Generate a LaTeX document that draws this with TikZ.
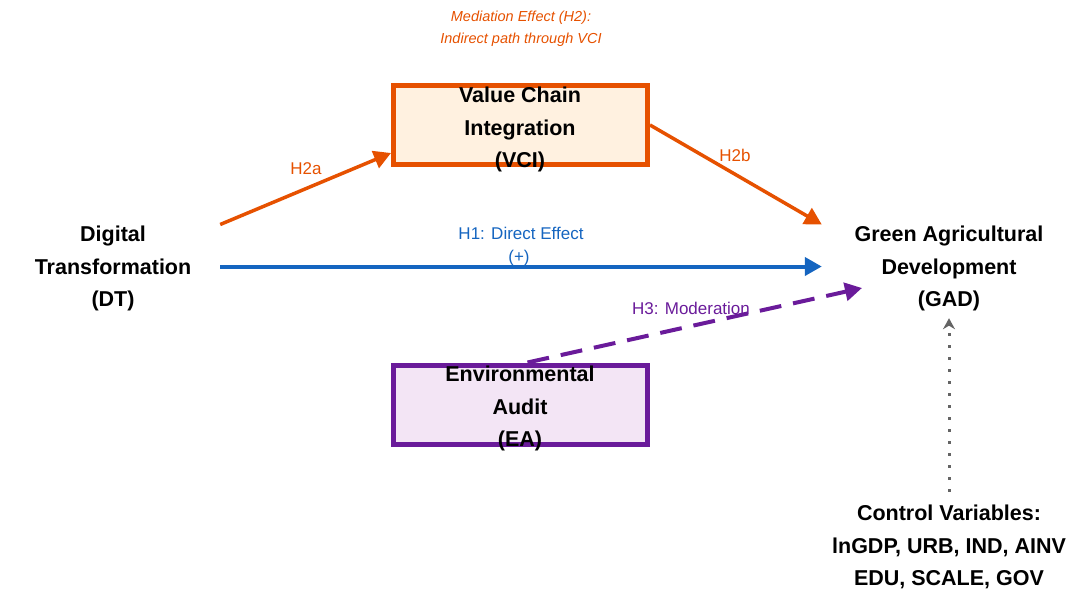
\documentclass[tikz,border=0pt]{standalone}
\usepackage{fontspec}
\setmainfont{Liberation Sans}
\usetikzlibrary{arrows.meta}
\definecolor{medorange}{RGB}{230,81,0}
\definecolor{medfill}{RGB}{255,241,224}
\definecolor{modpurple}{RGB}{106,27,154}
\definecolor{modfill}{RGB}{243,229,245}
\definecolor{dirblue}{RGB}{21,101,192}
\definecolor{ctrlgray}{RGB}{100,100,100}
\begin{document}
\begin{tikzpicture}[x=1pt,y=-1pt,
  var/.style={font=\fontsize{21.5}{32.5}\selectfont\bfseries,align=center,inner sep=0pt},
  box/.style={draw=#1,line width=5pt,minimum width=254pt,minimum height=79pt,inner sep=0pt},
  lbl/.style={font=\fontsize{17}{22}\selectfont,inner sep=0pt,align=center},
  link/.style={line width=3.5pt,-{Triangle[length=17pt,width=18pt]}}]
  \useasboundingbox (0,0) rectangle (1074,590);
  \node[var,minimum width=214pt] (dt) at (113,268.5) {Digital\\Transformation\\(DT)};
  \node[var,minimum width=254pt] (gad) at (949,268.5) {Green Agricultural\\Development\\(GAD)};
  \node[box=medorange,fill=medfill] (vci) at (520.5,125) {};
  \node[var] (vcitext) at (520,129.5) {Value Chain\\Integration\\(VCI)};
  \node[box=modpurple,fill=modfill] (ea) at (520.5,404.5) {};
  \node[var] (eatext) at (520,408.5) {Environmental\\Audit\\(EA)};
  \node[var] (ctrl) at (949,547) {Control Variables:\\lnGDP, URB, IND, AINV\\EDU, SCALE, GOV};
  \node[lbl,medorange,font=\fontsize{14.5}{22}\selectfont\itshape] (med) at (521,29) {Mediation Effect (H2):\\Indirect path through VCI};
  \draw[link,medorange] ([yshift=44pt]dt.east) -- ([yshift=-28pt]vci.west);
  \draw[link,medorange] (vci.east) -- ([yshift=44pt]gad.west);
  \draw[link,dirblue,line width=4pt] ([yshift=2pt]dt.east) -- ([yshift=2pt]gad.west);
  \draw[link,modpurple,line width=4pt,dash pattern=on 22pt off 12pt] ([xshift=7pt]ea.north) -- ([shift={(-87pt,-19.5pt)}]gad.center);
  \draw[ctrlgray,line width=3pt,dash pattern=on 3pt off 9pt,-{Stealth[length=11pt,width=12pt]}] ([yshift=13pt]ctrl.north) -- ([yshift=-7pt]gad.south);
  \node[lbl,medorange] (h2a) at (306,169) {H2a};
  \node[lbl,medorange] (h2b) at (735,155) {H2b};
  \node[lbl,dirblue] (h1) at (521,233) {H1: Direct Effect};
  \node[lbl,dirblue] (h1sign) at (519,258) {(+)};
  \node[lbl,modpurple] (h3) at (691,308) {H3: Moderation};
\end{tikzpicture}
\end{document}
